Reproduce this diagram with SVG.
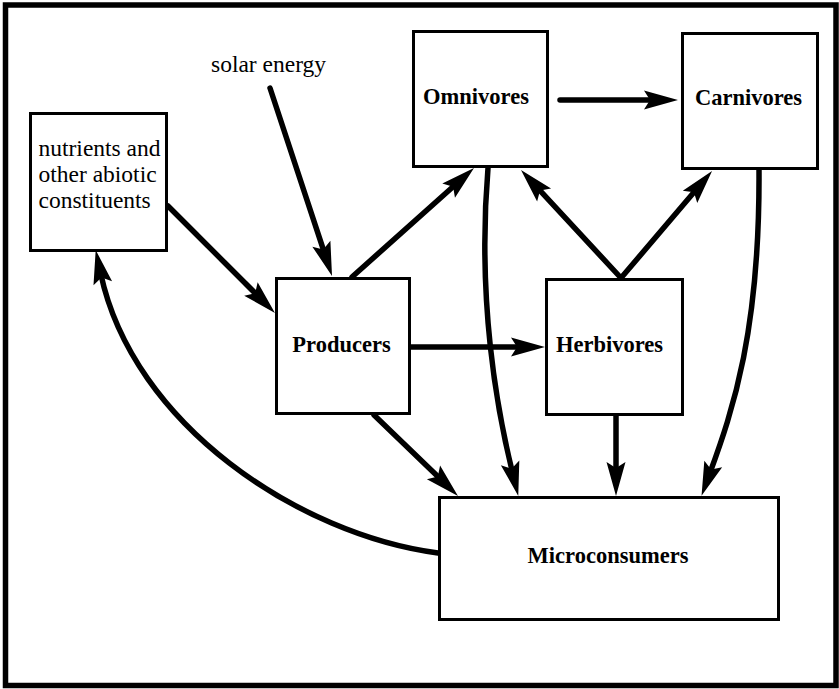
<svg xmlns="http://www.w3.org/2000/svg" width="839" height="689" viewBox="0 0 839 689">
  <style>
    .frame { fill: #ffffff; stroke: #000000; stroke-width: 5.5; }
    .box { fill: #ffffff; stroke: #000000; stroke-width: 3; }
    .label { font-family: "Liberation Serif", "Times New Roman", serif; font-weight: bold; font-size: 22.5px; fill: #000000; text-anchor: middle; }
    .plain { font-family: "Liberation Serif", "Times New Roman", serif; font-size: 23.5px; fill: #000000; }
    .flow { fill: none; stroke: #000000; stroke-width: 5.5; stroke-linecap: round; marker-end: url(#head); }
  </style>
  <defs>
    <!-- slender arrowhead; its base sits on the path end, its tip 24 units beyond -->
    <marker id="head" markerUnits="userSpaceOnUse" viewBox="-12 -12 40 24" markerWidth="40" markerHeight="24" refX="0" refY="0" orient="auto">
      <path d="M24,0 L-10,-9.5 L-4,0 L-10,9.5 Z" fill="#000000"/>
    </marker>
  </defs>

  <rect class="frame" x="5.5" y="5" width="830.5" height="680.5"/>

  <g id="connectors">
    <path class="flow" d="M270,88 L324.5,253.2"/>
    <path class="flow" d="M168,206 L258,296"/>
    <path class="flow" d="M352,277 L456.1,184"/>
    <path class="flow" d="M411,347 L521,347"/>
    <path class="flow" d="M560,100 L654,100"/>
    <path class="flow" d="M621,278 L537.3,187.6"/>
    <path class="flow" d="M621,278 L696.5,189.3"/>
    <path class="flow" d="M374,415 L440.7,479.3"/>
    <path class="flow" d="M616,416 L616,472"/>
    <path class="flow" d="M488,168 C477,300 497,410 512.5,472.6"/>
    <path class="flow" d="M759,170 C760,330 733,410 709.8,473.3"/>
    <path class="flow" d="M438,553 C300,535 133,425 100.7,273.5"/>
  </g>

  <g id="solar-energy">
    <text class="plain" x="211" y="72">solar energy</text>
  </g>

  <g id="nutrients">
    <rect class="box" x="30.5" y="113.5" width="136" height="137"/>
    <text class="plain" x="38.5" y="156">nutrients and</text>
    <text class="plain" x="38.5" y="182">other abiotic</text>
    <text class="plain" x="38.5" y="208">constituents</text>
  </g>

  <g id="producers">
    <rect class="box" x="276.5" y="278.5" width="133" height="135"/>
    <text class="label" x="341.5" y="352">Producers</text>
  </g>

  <g id="omnivores">
    <rect class="box" x="413.5" y="31.5" width="134" height="135"/>
    <text class="label" x="476" y="104">Omnivores</text>
  </g>

  <g id="carnivores">
    <rect class="box" x="682.5" y="33.5" width="135" height="135"/>
    <text class="label" x="748.5" y="105">Carnivores</text>
  </g>

  <g id="herbivores">
    <rect class="box" x="546.5" y="279.5" width="136" height="135"/>
    <text class="label" x="609.5" y="352">Herbivores</text>
  </g>

  <g id="microconsumers">
    <rect class="box" x="439.5" y="497.5" width="339" height="122"/>
    <text class="label" x="608" y="563">Microconsumers</text>
  </g>
</svg>
